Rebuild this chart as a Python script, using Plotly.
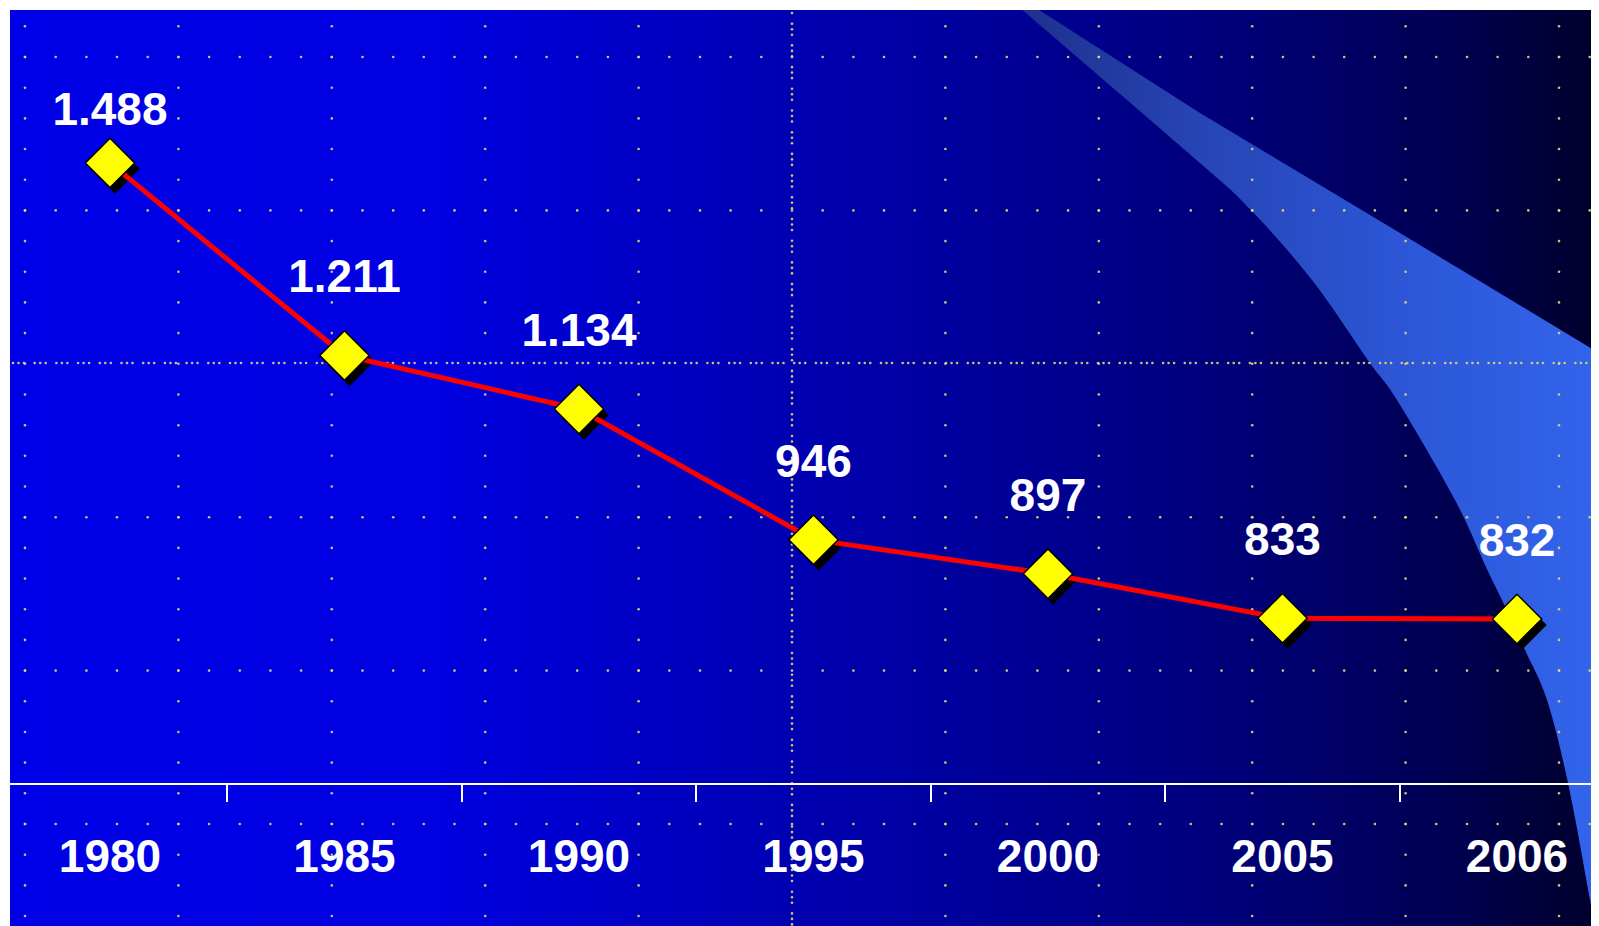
import base64
import plotly.graph_objects as go

# data
years = ["1980", "1985", "1990", "1995", "2000", "2005", "2006"]
values = [1488, 1211, 1134, 946, 897, 833, 832]

# axis ranges (picked so the markers land where the original has them)
x_range = [-0.4264, 6.3497]
y_range = [596, 1708]
y_domain = [0.1561, 1.0]
# drop shadow offset, in axis units (~5px right, ~6px down)
shadow_dx = 5 / 234.5
shadow_dy = 6 * 1.4386
# invisible marker sizes used to push the value labels up
label_pad = [40, 81, 81, 81, 81, 81, 81]


def catmull_rom(pts):
    """Smooth path through points as cubic beziers."""
    d = f"{pts[0][0]:.1f},{pts[0][1]:.1f}"
    out = []
    for i in range(len(pts) - 1):
        p0 = pts[i - 1] if i > 0 else pts[i]
        p1, p2 = pts[i], pts[i + 1]
        p3 = pts[i + 2] if i + 2 < len(pts) else p2
        c1 = (p1[0] + (p2[0] - p0[0]) / 6, p1[1] + (p2[1] - p0[1]) / 6)
        c2 = (p2[0] - (p3[0] - p1[0]) / 6, p2[1] - (p3[1] - p1[1]) / 6)
        out.append(f"C{c1[0]:.1f},{c1[1]:.1f} {c2[0]:.1f},{c2[1]:.1f} {p2[0]:.1f},{p2[1]:.1f}")
    return d, " ".join(out)


def background_svg():
    """Blue gradient backdrop, light swoosh on the right and dotted grid."""
    s = ['<svg xmlns="http://www.w3.org/2000/svg" width="1589" height="916" '
         'viewBox="10 10 1589 916" preserveAspectRatio="none">']
    s.append('<defs>'
             '<linearGradient id="bg" gradientUnits="userSpaceOnUse" x1="10" y1="0" x2="1599" y2="0">'
             '<stop offset="0" stop-color="rgb(0,0,232)"/>'
             '<stop offset="0.27" stop-color="rgb(0,0,224)"/>'
             '<stop offset="0.5" stop-color="rgb(0,0,176)"/>'
             '<stop offset="0.68" stop-color="rgb(0,0,140)"/>'
             '<stop offset="0.75" stop-color="rgb(0,0,126)"/>'
             '<stop offset="0.9" stop-color="rgb(0,0,84)"/>'
             '<stop offset="1" stop-color="rgb(0,0,44)"/>'
             '</linearGradient>'
             '<linearGradient id="sw" gradientUnits="userSpaceOnUse" x1="1020" y1="0" x2="1599" y2="0">'
             '<stop offset="0" stop-color="rgb(30,48,140)"/>'
             '<stop offset="0.3" stop-color="rgb(38,68,180)"/>'
             '<stop offset="0.65" stop-color="rgb(44,86,214)"/>'
             '<stop offset="1" stop-color="rgb(50,100,236)"/>'
             '</linearGradient></defs>')
    s.append('<rect x="10" y="10" width="1589" height="916" fill="url(#bg)"/>')

    left_edge = [(1020, 8), (1200, 163), (1250, 209), (1312, 280), (1370, 363),
                 (1397, 400), (1455, 500), (1486, 567), (1502, 600), (1525, 650),
                 (1547, 700), (1568, 783), (1590, 900), (1600, 960)]
    start, curve = catmull_rom(left_edge)
    s.append(f'<path d="M{start} {curve} L1610,960 L1610,358 L1599,353 '
             f'L1400,233 L1200,113 L1036,8 Z" fill="url(#sw)"/>')

    dots = []
    step = 153.4 / 5
    for k in range(11):
        if k == 5:
            continue
        x = 25 + 153.4 * k
        m = -1
        while 57 + step * m <= 926:
            dots.append((x, 57 + step * m))
            m += 1
    for k in range(6):
        if k == 2:
            continue
        y = 57 + 153.4 * k
        m = 0
        while 25 + step * m <= 1599:
            dots.append((25 + step * m, y))
            m += 1
    # denser crosshair lines
    t = 2.0
    while t < 926:
        for o in (0, 5.5, 11):
            dots.append((792, t + o))
        t += 21.7
    t = 13.0
    while t < 1599:
        for o in (0, 5.5, 11):
            dots.append((t + o, 363))
        t += 21.7
    for x, y in dots:
        s.append(f'<circle cx="{x:.1f}" cy="{y:.1f}" r="1.3" fill="rgb(228,216,120)" fill-opacity="0.9"/>')
    s.append('</svg>')
    return "data:image/svg+xml;base64," + base64.b64encode("".join(s).encode()).decode()


font = dict(family="Liberation Sans, Arial", size=46, color="white", weight="bold")

fig = go.Figure()

# shadow of the diamonds, on the base axes which are shifted a few pixels
fig.add_trace(go.Scatter(
    x=years, y=values, xaxis="x", yaxis="y",
    mode="markers",
    marker=dict(symbol="diamond", size=38, color="black", line=dict(width=0)),
    hoverinfo="skip", showlegend=False,
))

fig.add_trace(go.Scatter(
    x=years, y=values, xaxis="x2", yaxis="y2",
    mode="lines+markers",
    line=dict(color="#ff0000", width=5),
    marker=dict(symbol="diamond", size=38, color="#ffff00",
                line=dict(color="black", width=1.5)),
    showlegend=False,
))

# value labels
fig.add_trace(go.Scatter(
    x=years, y=values, xaxis="x2", yaxis="y2",
    mode="markers+text",
    marker=dict(size=label_pad, opacity=0),
    texttemplate="%{y:,.0f}",
    textposition="top center",
    textfont=font,
    hoverinfo="skip", showlegend=False,
))

fig.update_layout(
    width=1591, height=918,
    margin=dict(l=2, r=0, t=2, b=0),
    paper_bgcolor="white",
    plot_bgcolor="rgba(0,0,0,0)",
    separators=",.",
    showlegend=False,
    xaxis=dict(type="category", range=[x_range[0] - shadow_dx, x_range[1] - shadow_dx],
               visible=False, showgrid=False, fixedrange=True),
    yaxis=dict(range=[y_range[0] + shadow_dy, y_range[1] + shadow_dy], domain=y_domain,
               visible=False, showgrid=False, fixedrange=True),
    xaxis2=dict(type="category", overlaying="x", anchor="y2", range=x_range,
                showgrid=False, zeroline=False,
                showline=True, linecolor="white", linewidth=2,
                ticks="outside", tickson="boundaries", ticklen=17, tickwidth=2,
                tickcolor="white", tickfont=font, ticklabelstandoff=32),
    yaxis2=dict(overlaying="y", anchor="x2", range=y_range, domain=y_domain,
                visible=False, showgrid=False),
    images=[dict(source=background_svg(), xref="paper", yref="paper",
                 x=0, y=1, sizex=1, sizey=1, xanchor="left", yanchor="top",
                 sizing="stretch", layer="below")],
)

fig.write_html("out.html")
